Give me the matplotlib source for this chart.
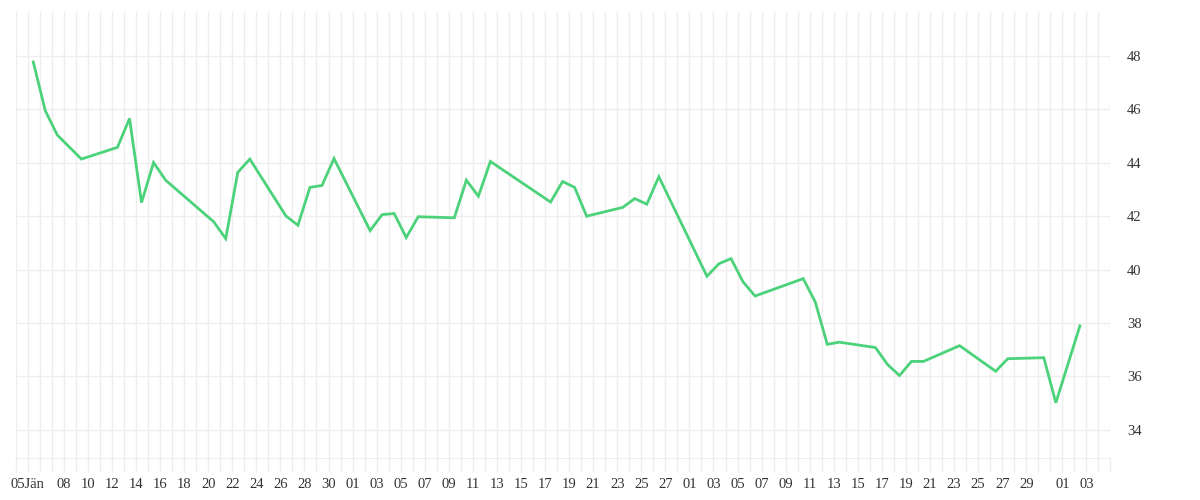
import matplotlib
matplotlib.use('Agg')
import matplotlib.pyplot as plt
import matplotlib.dates as mdates
import pandas as pd
from matplotlib.ticker import FixedLocator

# trading days (2015) and closing values
dates = [
    '2015-01-05', '2015-01-06', '2015-01-07', '2015-01-09', '2015-01-12',
    '2015-01-13', '2015-01-14', '2015-01-15', '2015-01-16', '2015-01-20',
    '2015-01-21', '2015-01-22', '2015-01-23', '2015-01-26', '2015-01-27',
    '2015-01-28', '2015-01-29', '2015-01-30', '2015-02-02', '2015-02-03',
    '2015-02-04', '2015-02-05', '2015-02-06', '2015-02-09', '2015-02-10',
    '2015-02-11', '2015-02-12', '2015-02-17', '2015-02-18', '2015-02-19',
    '2015-02-20', '2015-02-23', '2015-02-24', '2015-02-25', '2015-02-26',
    '2015-03-02', '2015-03-03', '2015-03-04', '2015-03-05', '2015-03-06',
    '2015-03-10', '2015-03-11', '2015-03-12', '2015-03-13', '2015-03-16',
    '2015-03-17', '2015-03-18', '2015-03-19', '2015-03-20', '2015-03-23',
    '2015-03-26', '2015-03-27', '2015-03-30', '2015-03-31', '2015-04-02',
]
values = [
    47.78, 45.95, 45.04, 44.14, 44.58, 45.66, 42.51, 44.01, 43.35, 41.79,
    41.16, 43.64, 44.14, 42.01, 41.66, 43.08, 43.15, 44.16, 41.46, 42.06,
    42.10, 41.20, 41.98, 41.94, 43.35, 42.75, 44.05, 42.53, 43.30, 43.08,
    42.00, 42.33, 42.66, 42.45, 43.48, 39.75, 40.22, 40.41, 39.54, 39.01,
    39.66, 38.79, 37.20, 37.28, 37.08, 36.45, 36.03, 36.56, 36.56, 37.15,
    36.19, 36.66, 36.70, 35.01, 37.89,
]

# x tick labels: month -> labelled days
label_days = {
    1: [5] + list(range(8, 31, 2)),
    2: list(range(1, 28, 2)),
    3: list(range(1, 30, 2)),
    4: [1, 3],
}
month_names = {1: 'Jän'}
y_ticks = [34, 36, 38, 40, 42, 44, 46, 48]

GRID = '#eeeeee'
TEXT = '#333333'
LINE = '#4cd27a'
FONT = 'Liberation Serif'


def main():
    # points sit around midday of their date in the original chart
    x = mdates.date2num(pd.to_datetime(dates) + pd.Timedelta(hours=11))

    fig = plt.figure(figsize=(12, 5), dpi=100)
    ax = fig.add_axes([0.0131, 0.0834, 0.9123, 0.8926])

    start = pd.Timestamp('2015-01-04')
    end = pd.Timestamp('2015-04-05')
    ax.set_xlim(mdates.date2num(start), mdates.date2num(end))
    ax.set_ylim(32.93, 49.65)

    # one grid line / tick per day, labels only on some days
    days = pd.date_range(start, end, freq='D')
    ax.xaxis.set_major_locator(FixedLocator(mdates.date2num(days)))
    labels = []
    first = True
    for d in days:
        if d.day in label_days.get(d.month, []):
            txt = '%02d' % d.day
            if first:
                txt += month_names.get(d.month, '')
                first = False
            labels.append(txt)
        else:
            labels.append('')
    ax.set_xticklabels(labels)

    ax.yaxis.tick_right()
    ax.set_yticks(y_ticks)
    ax.set_yticklabels([str(v) for v in y_ticks])

    ax.grid(True, color=GRID, linewidth=1)
    ax.tick_params(axis='x', length=10, width=1, color=GRID, pad=4,
                   labelsize=10.5, labelcolor=TEXT)
    ax.tick_params(axis='y', right=True, length=0, pad=12,
                   labelsize=10.5, labelcolor=TEXT)
    for lab in ax.get_xticklabels() + ax.get_yticklabels():
        lab.set_fontfamily(FONT)
    for side in ('top', 'left', 'right'):
        ax.spines[side].set_visible(False)
    ax.spines['bottom'].set_color(GRID)
    ax.set_axisbelow(True)

    ax.plot(x, values, color=LINE, linewidth=2.0, solid_joinstyle='miter')

    fig.savefig('out.png', dpi=100, facecolor='white')


if __name__ == '__main__':
    main()
